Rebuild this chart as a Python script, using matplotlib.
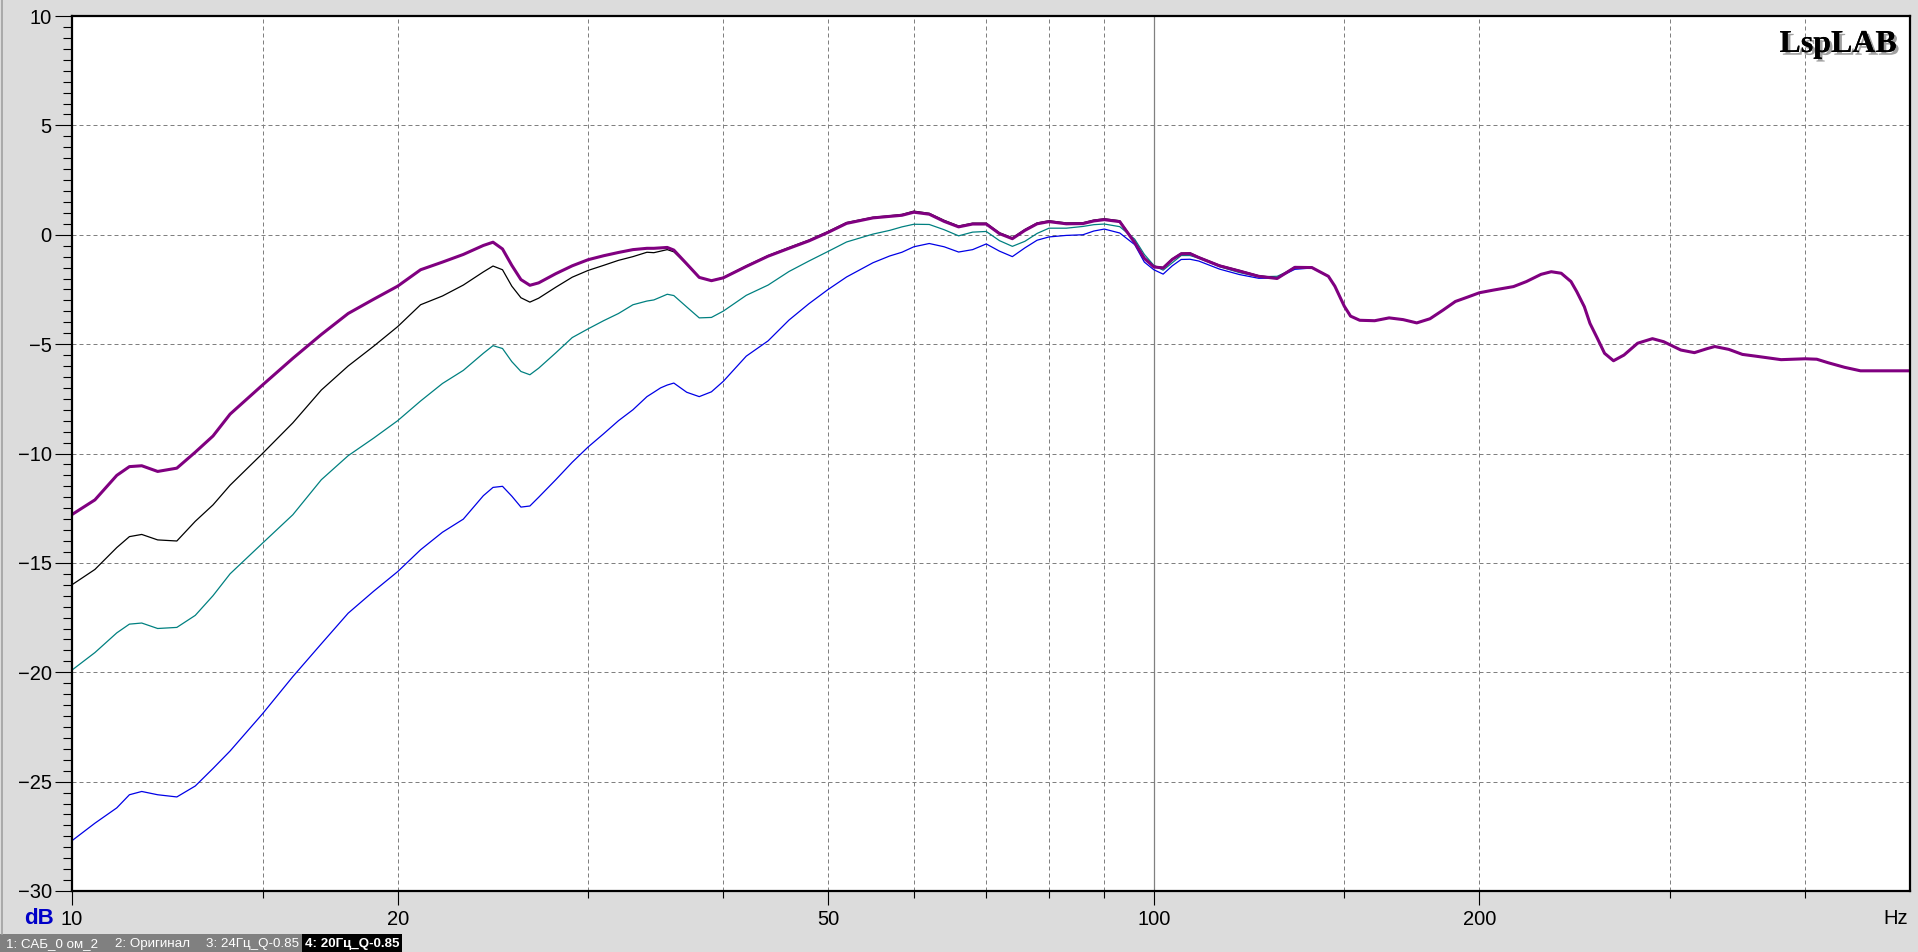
import numpy as np
import matplotlib.pyplot as plt
from matplotlib.patches import Rectangle
import matplotlib.patheffects as pe

# Frequency points (Hz) where the four curves differ
freq_lo = [10, 10.5, 11, 11.3, 11.6, 12, 12.5, 13, 13.5, 14,
           15, 16, 17, 18, 19, 20, 21, 22, 23, 24,
           24.5, 25, 25.5, 26, 26.5, 27, 28, 29, 30, 31,
           32, 33, 34, 34.5, 35, 35.5, 36, 37, 38, 39,
           40, 42, 44, 46, 48, 50, 52, 55, 57, 58.5,
           60, 62, 64, 66, 68, 70, 72, 74, 76, 78,
           80, 83, 86, 88, 90, 93, 96, 98, 100, 102,
           104, 106, 108, 110, 115, 120, 125, 130, 135, 140]

purple_lo = [-12.79, -12.12, -11.0, -10.6, -10.56, -10.82, -10.67, -9.94, -9.2, -8.2,
             -6.87, -5.65, -4.56, -3.6, -2.95, -2.35, -1.6, -1.25, -0.9, -0.49,
             -0.34, -0.65, -1.4, -2.05, -2.31, -2.2, -1.78, -1.42, -1.14, -0.96,
             -0.81, -0.68, -0.62, -0.62, -0.6, -0.58, -0.7, -1.33, -1.95, -2.1,
             -1.97, -1.45, -0.98, -0.62, -0.28, 0.11, 0.52, 0.77, 0.84, 0.89,
             1.03, 0.94, 0.61, 0.36, 0.49, 0.49, 0.05, -0.18, 0.2, 0.5,
             0.6, 0.5, 0.51, 0.63, 0.69, 0.6, -0.36, -1.08, -1.47, -1.52,
             -1.13, -0.87, -0.86, -1.04, -1.42, -1.66, -1.9, -2.0, -1.49, -1.5]

black_lo = [-16.0, -15.3, -14.3, -13.8, -13.7, -13.95, -14.0, -13.1, -12.35, -11.45,
            -10.0, -8.6, -7.1, -6.0, -5.1, -4.2, -3.2, -2.8, -2.3, -1.7,
            -1.43, -1.6, -2.35, -2.88, -3.08, -2.9, -2.4, -1.94, -1.63, -1.4,
            -1.17, -1.0, -0.8, -0.82, -0.75, -0.68, -0.78, -1.35, -1.95, -2.1,
            -1.95, -1.42, -0.95, -0.58, -0.24, 0.15, 0.56, 0.8, 0.87, 0.93,
            1.08, 0.98, 0.66, 0.4, 0.53, 0.53, 0.09, -0.14, 0.24, 0.54,
            0.64, 0.54, 0.55, 0.67, 0.73, 0.64, -0.32, -1.05, -1.44, -1.49,
            -1.1, -0.84, -0.83, -1.01, -1.39, -1.63, -1.87, -1.97, -1.47, -1.49]

teal_lo = [-19.9, -19.1, -18.2, -17.8, -17.75, -18.0, -17.95, -17.4, -16.5, -15.5,
           -14.1, -12.8, -11.2, -10.1, -9.3, -8.5, -7.6, -6.8, -6.2, -5.42,
           -5.07, -5.2, -5.8, -6.25, -6.4, -6.1, -5.4, -4.7, -4.3, -3.93,
           -3.6, -3.2, -3.03, -2.98, -2.85, -2.72, -2.78, -3.3, -3.8, -3.78,
           -3.49, -2.77, -2.3, -1.68, -1.2, -0.76, -0.33, 0.03, 0.2, 0.36,
           0.48, 0.47, 0.23, -0.05, 0.12, 0.15, -0.27, -0.53, -0.3, 0.06,
           0.3, 0.3, 0.38, 0.46, 0.49, 0.37, -0.2, -0.9, -1.4, -1.62,
           -1.28, -0.95, -0.95, -1.07, -1.46, -1.73, -1.92, -1.9, -1.53, -1.5]

blue_lo = [-27.7, -26.9, -26.2, -25.6, -25.45, -25.6, -25.7, -25.2, -24.4, -23.6,
           -21.9, -20.2, -18.7, -17.3, -16.3, -15.4, -14.4, -13.6, -13.0, -11.93,
           -11.55, -11.5, -11.95, -12.45, -12.4, -12.0, -11.2, -10.4, -9.7, -9.1,
           -8.5, -8.0, -7.4, -7.2, -7.0, -6.87, -6.78, -7.2, -7.4, -7.18,
           -6.7, -5.55, -4.85, -3.9, -3.15, -2.5, -1.93, -1.28, -0.97, -0.8,
           -0.55, -0.4, -0.55, -0.79, -0.68, -0.42, -0.75, -1.0, -0.6, -0.25,
           -0.1, -0.03, 0.0, 0.17, 0.26, 0.08, -0.45, -1.25, -1.6, -1.8,
           -1.42, -1.13, -1.12, -1.2, -1.57, -1.82, -1.99, -1.98, -1.58, -1.52]

# Above ~145 Hz all four curves lie on top of each other
freq_hi = [145, 147, 150, 152, 155, 160, 165, 170, 175, 180,
           185, 190, 195, 200, 206, 215, 221, 228, 233, 238,
           243, 246, 250, 253, 257, 261, 266, 272, 280, 289,
           296, 307, 316, 325, 330, 340, 350, 360, 380, 400,
           410, 420, 435, 450, 480, 500]

common_hi = [-1.9, -2.35, -3.27, -3.72, -3.91, -3.93, -3.8, -3.88, -4.03, -3.84,
             -3.45, -3.05, -2.85, -2.65, -2.53, -2.37, -2.14, -1.81, -1.69, -1.76,
             -2.14, -2.6, -3.29, -4.05, -4.73, -5.42, -5.76, -5.5, -4.96, -4.75,
             -4.89, -5.27, -5.39, -5.2, -5.11, -5.24, -5.47, -5.55, -5.71, -5.67,
             -5.69, -5.85, -6.06, -6.22, -6.22, -6.22]

curve_names = ['САБ_0 ом_2', 'Оригинал', '24Гц_Q-0.85', '20Гц_Q-0.85']

x_labels = [10, 20, 50, 100, 200]
x_grid = [15, 20, 30, 40, 50, 60, 70, 80, 90, 150, 200, 300, 400]
y_labels = [10, 5, 0, -5, -10, -15, -20, -25, -30]

W, H = 1918, 952
BG = '#dcdcdc'
FONT = 'Liberation Sans'


def fx(px):
    return px / W


def fy(py):
    # pixel row from top -> figure fraction
    return 1 - py / H


fig = plt.figure(figsize=(W / 100, H / 100), dpi=100, facecolor=BG)
ax = fig.add_axes([fx(72), fy(891), fx(1910) - fx(72), fy(16) - fy(891)])
ax.set_facecolor('white')

freqs = np.array(freq_lo + freq_hi)
curves = [
    (blue_lo, '#0000e6', 0.9),
    (teal_lo, '#008080', 0.9),
    (black_lo, '#000000', 0.9),
    (purple_lo, '#800080', 2.2),
]
for lo, color, lw in curves:
    ax.plot(freqs, np.array(lo + common_hi), color=color, lw=lw,
            solid_joinstyle='round', zorder=3)

ax.set_xscale('log')
ax.set_xlim(10, 500)
ax.set_ylim(-30, 10)

# grid
for g in x_grid:
    ax.axvline(g, color='#808080', lw=0.72, dashes=(4, 3), zorder=1)
ax.axvline(100, color='#808080', lw=0.9, zorder=1)
for g in y_labels[1:-1]:
    ax.axhline(g, color='#808080', lw=0.72, dashes=(4, 3), zorder=1)

# ticks
ax.xaxis.set_major_locator(plt.FixedLocator(x_labels))
ax.xaxis.set_minor_locator(plt.FixedLocator([g for g in x_grid if g not in x_labels]))
ax.xaxis.set_major_formatter(plt.FixedFormatter([str(v) for v in x_labels]))
ax.xaxis.set_minor_formatter(plt.NullFormatter())
ax.yaxis.set_major_locator(plt.FixedLocator(y_labels))
ax.yaxis.set_minor_locator(plt.MultipleLocator(0.5))
ax.tick_params(axis='x', which='major', length=10, width=0.8, pad=4,
               labelsize=14.5, direction='out')
ax.tick_params(axis='x', which='minor', length=5, width=0.8, direction='out')
ax.tick_params(axis='y', which='major', length=12.5, width=0.8, pad=2,
               labelsize=14.5, direction='out')
ax.tick_params(axis='y', which='minor', length=6.5, width=0.8, direction='out')
for lab in ax.get_xticklabels() + ax.get_yticklabels():
    lab.set_fontfamily(FONT)

for side in ['top', 'bottom', 'left', 'right']:
    ax.spines[side].set_linewidth(1.6)
    ax.spines[side].set_color('black')
    ax.spines[side].set_zorder(5)

# axis captions
fig.text(fx(39), fy(919), 'dB', color='#0000c8', fontsize=16, fontweight='bold',
         family=FONT, ha='center', va='center')
fig.text(fx(1908), fy(918), 'Hz', color='black', fontsize=14.5,
         family=FONT, ha='right', va='center')

# logo with drop shadow
fig.text(fx(1897), fy(52), 'LspLAB', fontsize=23, fontweight='bold',
         family='Liberation Serif', ha='right', va='baseline', color='black',
         path_effects=[pe.withSimplePatchShadow(offset=(2, -2),
                                                shadow_rgbFace='#a0a0a0', alpha=1),
                       pe.Normal()])

# legend strip at the bottom
fig.add_artist(Rectangle((0, 0), fx(402), fy(934), transform=fig.transFigure,
                         facecolor='#808080', edgecolor='none'))
fig.add_artist(Rectangle((fx(302), 0), fx(100), fy(934), transform=fig.transFigure,
                         facecolor='black', edgecolor='none'))
legend_x = [6, 115, 206, 305]
for i, (name, lx) in enumerate(zip(curve_names, legend_x)):
    last = i == len(curve_names) - 1
    fig.text(fx(lx), fy(944), f'{i + 1}: {name}', color='white', fontsize=9.6,
             family=FONT, fontweight='bold' if last else 'normal',
             ha='left', va='center')

# thin window border on the left
fig.add_artist(plt.Line2D([fx(1.5), fx(1.5)], [fy(934), 1], transform=fig.transFigure,
                          color='#a0a0a0', lw=1.2))

fig.savefig('out.png', dpi=100, facecolor=BG)
